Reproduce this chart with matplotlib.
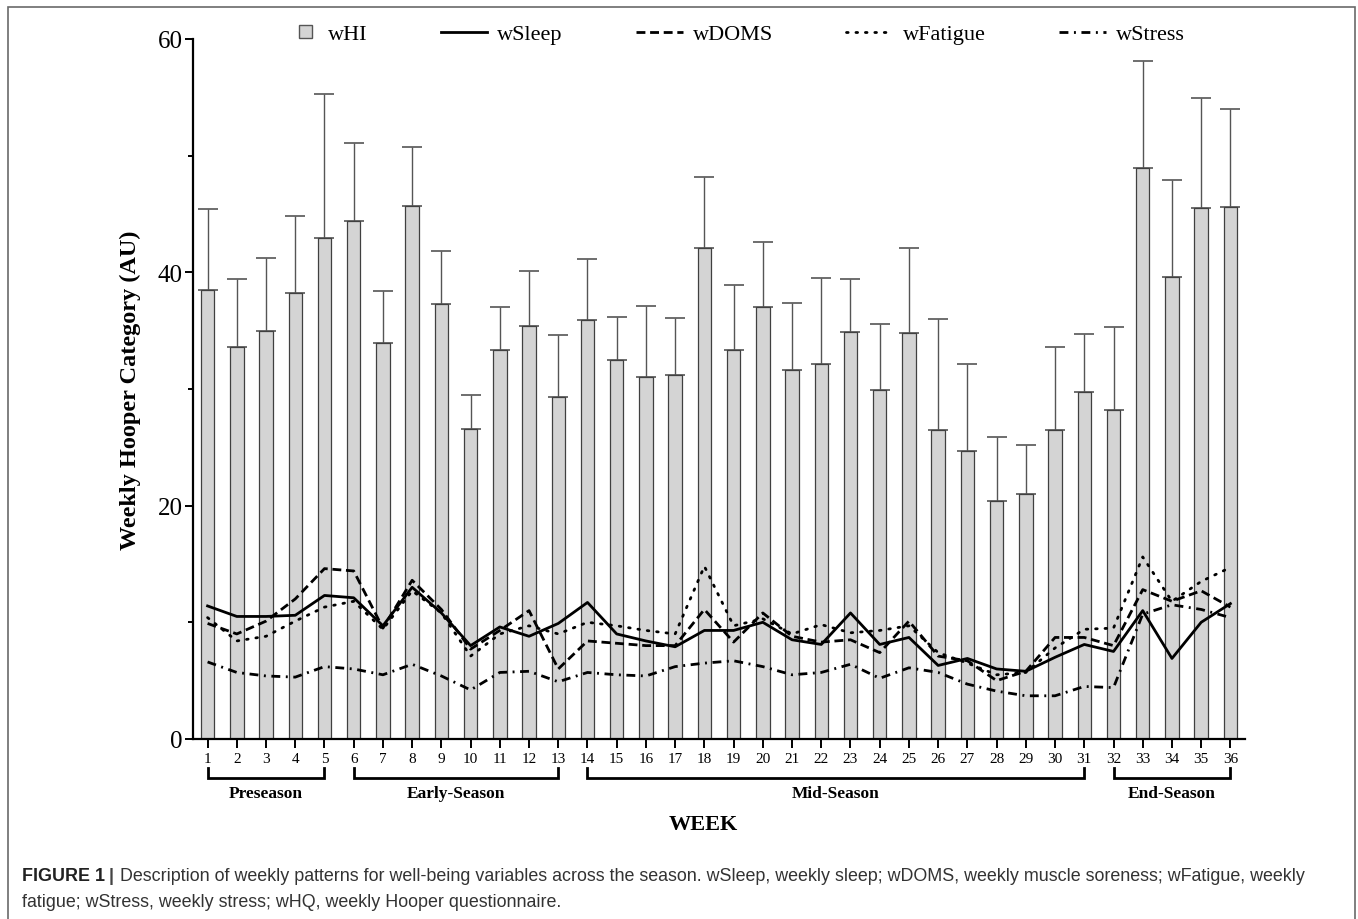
import matplotlib
matplotlib.use('Agg')
import matplotlib.pyplot as plt
import matplotlib.transforms as mtransforms
from matplotlib.lines import Line2D
from matplotlib.patches import Rectangle, Patch
from matplotlib.legend_handler import HandlerPatch
from matplotlib.ticker import MultipleLocator

# ---- data ----
weeks = list(range(1, 37))
whi_mean = [38.5, 33.6, 35.0, 38.2, 42.9, 44.4, 33.9, 45.7, 37.3, 26.6, 33.3, 35.4,
            29.3, 35.9, 32.5, 31.0, 31.2, 42.1, 33.3, 37.0, 31.6, 32.1, 34.9, 29.9,
            34.8, 26.5, 24.7, 20.4, 21.0, 26.5, 29.7, 28.2, 48.9, 39.6, 45.5, 45.6]
whi_sd = [6.9, 5.8, 6.2, 6.6, 12.4, 6.7, 4.5, 5.0, 4.5, 2.9, 3.7, 4.7,
          5.3, 5.2, 3.7, 6.1, 4.9, 6.1, 5.6, 5.6, 5.8, 7.4, 4.5, 5.7,
          7.3, 9.5, 7.4, 5.5, 4.2, 7.1, 5.0, 7.1, 9.2, 8.3, 9.4, 8.4]
wsleep = [11.4, 10.5, 10.5, 10.6, 12.3, 12.1, 9.7, 13.0, 10.8, 8.0, 9.6, 8.8,
          9.9, 11.7, 9.0, 8.4, 7.9, 9.3, 9.3, 10.0, 8.5, 8.1, 10.8, 8.1,
          8.7, 6.3, 6.9, 6.0, 5.8, 7.0, 8.1, 7.5, 11.0, 6.9, 10.0, 11.6]
wdoms = [9.9, 9.0, 10.1, 12.0, 14.6, 14.4, 9.5, 13.6, 11.1, 7.7, 9.3, 11.0,
         6.0, 8.4, 8.2, 8.0, 8.0, 11.1, 8.3, 10.8, 8.8, 8.3, 8.5, 7.4,
         10.1, 7.1, 6.7, 5.0, 5.8, 8.7, 8.7, 8.0, 12.8, 11.8, 12.7, 11.3]
wfatigue = [10.4, 8.4, 8.8, 10.1, 11.3, 11.8, 9.4, 12.7, 10.8, 7.1, 9.0, 9.7,
            9.0, 10.0, 9.7, 9.3, 9.0, 14.8, 9.7, 10.3, 9.0, 9.8, 9.1, 9.3,
            9.7, 7.4, 6.5, 5.5, 5.7, 7.8, 9.4, 9.5, 15.6, 11.8, 13.5, 14.7]
wstress = [6.6, 5.7, 5.4, 5.3, 6.2, 6.0, 5.5, 6.4, 5.4, 4.2, 5.7, 5.8,
           4.9, 5.7, 5.5, 5.4, 6.2, 6.5, 6.7, 6.2, 5.5, 5.7, 6.4, 5.2,
           6.1, 5.7, 4.7, 4.1, 3.7, 3.7, 4.5, 4.4, 10.7, 11.5, 11.1, 10.4]

season_names = ['Preseason', 'Early-Season', 'Mid-Season', 'End-Season']
season_start = [1, 6, 14, 32]
season_end = [5, 13, 31, 36]

SERIF = 'Liberation Serif'
SANS = 'Liberation Sans'
BAR_FACE = '#d4d4d4'

fig = plt.figure(figsize=(13.58, 9.2), dpi=100)
ax = fig.add_axes([0.1421, 0.1957, 0.7747, 0.7609])

ax.bar(weeks, whi_mean, width=0.46, color=BAR_FACE, edgecolor='#404040',
       linewidth=0.9, zorder=2)
ax.errorbar(weeks, whi_mean, yerr=[[0] * len(weeks), whi_sd], fmt='none',
            ecolor='#555555', elinewidth=1.0, capsize=7, capthick=1.2, zorder=1)

ax.plot(weeks, wsleep, color='black', lw=2.0, ls='-', zorder=4)
ax.plot(weeks, wdoms, color='black', lw=2.0, ls=(0, (3.2, 1.7)), zorder=4)
ax.plot(weeks, wfatigue, color='black', lw=2.0, ls=(0, (0.6, 2.8)),
        dash_capstyle='round', zorder=4)
ax.plot(weeks, wstress, color='black', lw=2.0, ls=(0, (3.2, 2.0, 0.7, 2.0)), zorder=4)

ax.set_xlim(0.5, 36.5)
ax.set_ylim(0, 60)
for s in ['top', 'right']:
    ax.spines[s].set_visible(False)
for s in ['left', 'bottom']:
    ax.spines[s].set_linewidth(1.6)

ax.yaxis.set_major_locator(MultipleLocator(20))
ax.yaxis.set_minor_locator(MultipleLocator(10))
ax.set_xticks(weeks)
ax.set_xticklabels([str(w) for w in weeks], fontfamily=SERIF, fontsize=11)
ax.tick_params(axis='x', direction='out', length=6.5, width=1.4, pad=3)
ax.tick_params(axis='y', which='major', direction='out', length=6, width=1.4,
               pad=1.5, labelsize=18)
ax.tick_params(axis='y', which='minor', direction='out', length=3.5, width=1.4)
for lab in ax.get_yticklabels():
    lab.set_fontfamily(SERIF)

fig.text(130 / 1358, 1 - 390 / 920, 'Weekly Hooper Category (AU)', rotation=90,
         ha='center', va='center', fontfamily=SERIF, fontweight='bold', fontsize=17.5)

# season brackets below the axis
trans = mtransforms.blended_transform_factory(ax.transData, fig.transFigure)
y_top = 1 - 769 / 920
y_bot = 1 - 779 / 920
for name, a, b in zip(season_names, season_start, season_end):
    ax.plot([a, a, b, b], [y_top, y_bot, y_bot, y_top], transform=trans,
            color='black', lw=2.0, clip_on=False, solid_joinstyle='miter')
    ax.text((a + b) / 2, 1 - 794 / 920, name, transform=trans, ha='center',
            va='center', fontfamily=SERIF, fontweight='bold', fontsize=12.5)

fig.text(703 / 1358, 1 - 825 / 920, 'WEEK', ha='center', va='center',
         fontfamily=SERIF, fontweight='bold', fontsize=16)


# legend: small square for the bar entry, sitting close to its label
def small_square(legend, orig_handle, xdescent, ydescent, width, height, fontsize):
    side = 9.5
    cx = width - 8.6
    return Rectangle((cx - side / 2 - xdescent, height / 2 - side / 2 - ydescent), side, side)


handles = [
    Patch(facecolor=BAR_FACE, edgecolor='#555555', linewidth=1.0),
    Line2D([], [], color='black', lw=2.0, ls='-'),
    Line2D([], [], color='black', lw=2.0, ls=(0, (3.2, 1.7))),
    Line2D([], [], color='black', lw=2.0, ls=(0, (0.6, 2.8)), dash_capstyle='round'),
    Line2D([], [], color='black', lw=2.0, ls=(0, (3.2, 2.0, 0.7, 2.0))),
]
labels = ['wHI', 'wSleep', 'wDOMS', 'wFatigue', 'wStress']
fig.legend(handles, labels, loc='center', bbox_to_anchor=(728 / 1358, 1 - 35 / 920),
           ncol=5, frameon=False, handlelength=2.1, handletextpad=0.45,
           columnspacing=3.3, prop={'family': SERIF, 'size': 16},
           handler_map={Patch: HandlerPatch(patch_func=small_square)})

# outer frame
fig.patches.append(Rectangle((8 / 1358, -0.01), 1347 / 1358, 1 - 8 / 920 + 0.01,
                             transform=fig.transFigure, fill=False,
                             edgecolor='#6a6a6a', lw=1.2))

# caption
fig.canvas.draw()
renderer = fig.canvas.get_renderer()
cap_y1 = 1 - 877 / 920
cap_y2 = 1 - 903 / 920
x0 = 22 / 1358
CAP = 12.85
t1 = fig.text(x0, cap_y1, 'FIGURE 1', ha='left', va='center', fontfamily=SANS,
              fontweight='bold', fontsize=CAP, color='#222222')
bb = t1.get_window_extent(renderer)
x1 = (bb.x1 + 4) / fig.bbox.width
t2 = fig.text(x1, cap_y1, '| ', ha='left', va='center', fontfamily=SANS,
              fontweight='bold', fontsize=CAP, color='#444444')
bb = t2.get_window_extent(renderer)
x2 = (bb.x1 + 1) / fig.bbox.width
fig.text(x2, cap_y1, 'Description of weekly patterns for well-being variables across the season. '
         'wSleep, weekly sleep; wDOMS, weekly muscle soreness; wFatigue, weekly',
         ha='left', va='center', fontfamily=SANS, fontsize=CAP, color='#333333')
fig.text(x0, cap_y2, 'fatigue; wStress, weekly stress; wHQ, weekly Hooper questionnaire.',
         ha='left', va='center', fontfamily=SANS, fontsize=CAP, color='#333333')

fig.savefig('out.png', dpi=100)
